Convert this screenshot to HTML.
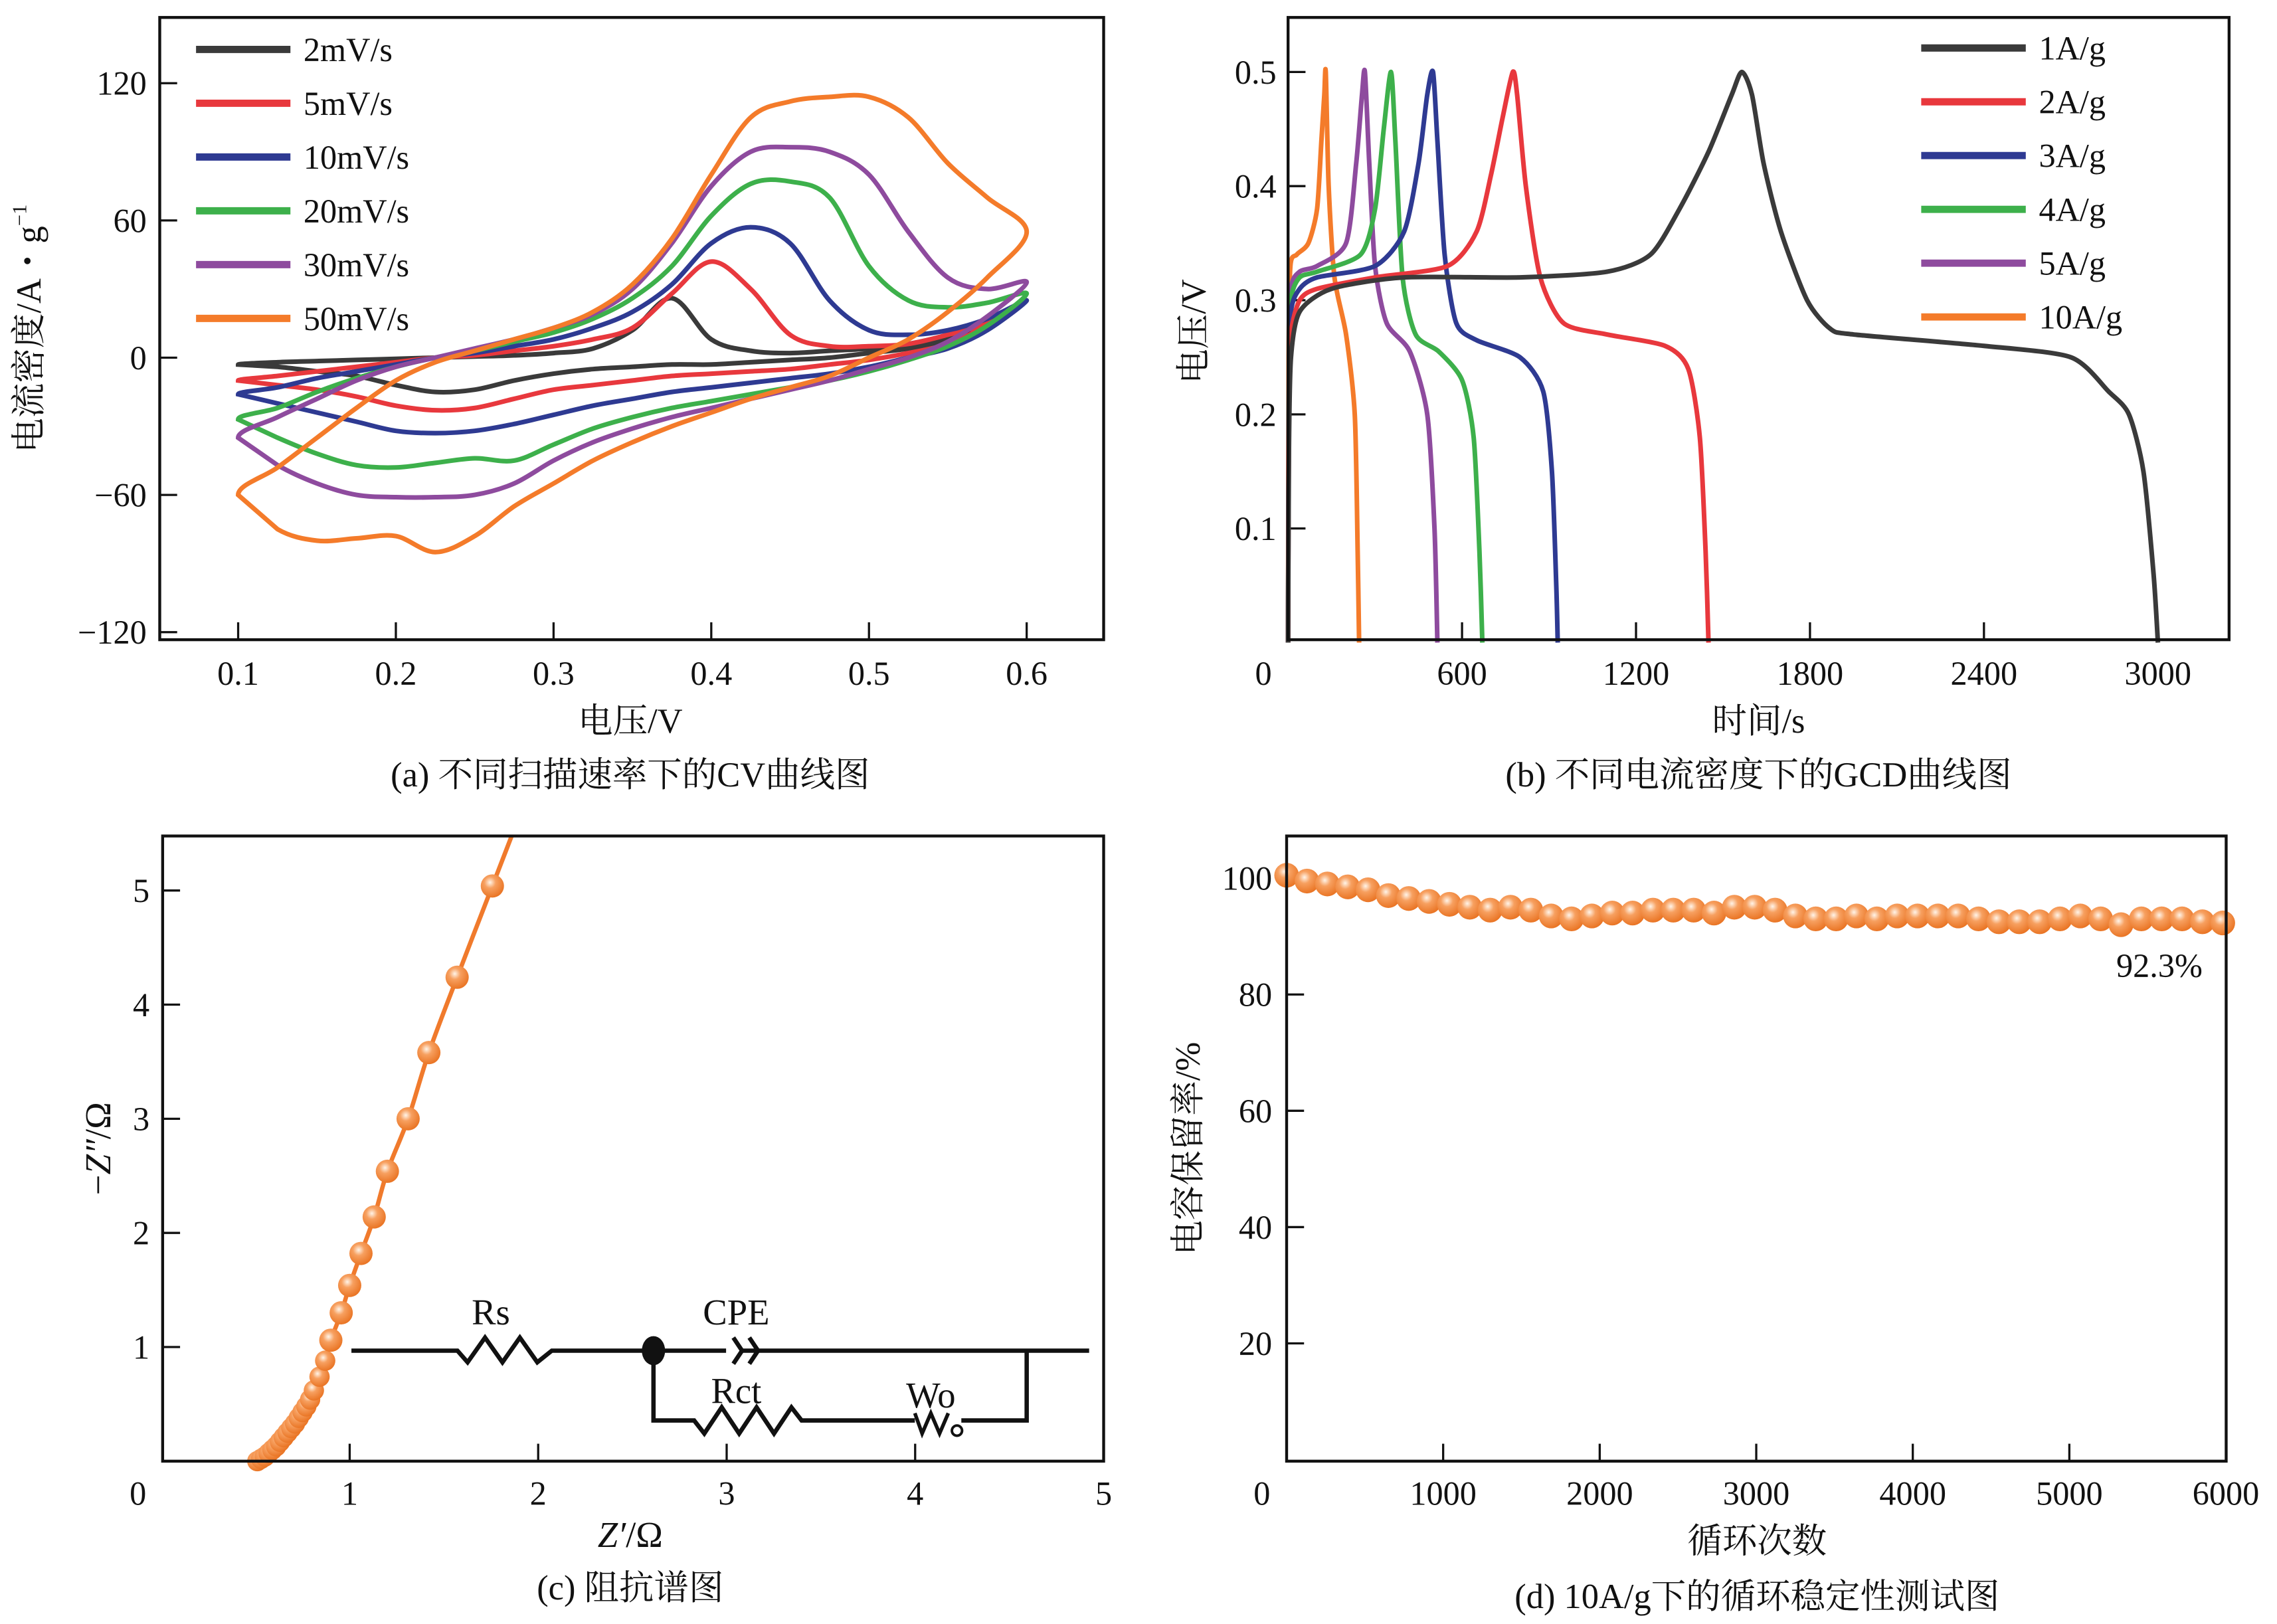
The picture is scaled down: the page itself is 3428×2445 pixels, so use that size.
<!DOCTYPE html>
<html><head><meta charset="utf-8"><style>
html,body{margin:0;padding:0;background:#fff;}
svg{display:block;}
text{font-family:"Liberation Serif","Noto Serif CJK SC",serif;fill:#111;}
</style></head><body>
<svg id="fig" width="3428" height="2445" viewBox="0 0 1568 1117" preserveAspectRatio="none" xmlns="http://www.w3.org/2000/svg">
<defs>
<radialGradient id="bead" cx="0.4" cy="0.35" r="0.7">
<stop offset="0" stop-color="#fff4e8"/><stop offset="0.35" stop-color="#f7a060"/><stop offset="1" stop-color="#e8701e"/>
</radialGradient>
</defs>
<g id="root"></g>
</svg>
<script>
// ---------- Panel (a) CV data ----------
const cvV = [0.1,0.125,0.15,0.175,0.2,0.225,0.25,0.275,0.3,0.325,0.35,0.375,0.4,0.425,0.45,0.475,0.5,0.525,0.55,0.575,0.6];
const cvLabels = ['2mV/s','5mV/s','10mV/s','20mV/s','30mV/s','50mV/s'];
const cvUp2 = [-3,-2,-1.5,-1,-0.5,0,0.5,1,2,4,12,26,8,3,2,3,4,6,10,16,25];
const cvLo2 = [-3,-4,-6,-8,-12,-15,-14,-10,-7,-5,-4,-3,-3,-2,-1,0,2,4,8,15,25];
const cvUp5 = [-10,-8,-6,-4,-2,0,1,3,5,8,13,28,42,30,10,5,5,6,10,15,25];
const cvLo5 = [-10,-12,-14,-17,-21,-23,-22,-18,-14,-12,-10,-8,-7,-6,-5,-3,-1,2,6,14,25];
const cvUp10 = [-16,-13,-9,-6,-3,0,2,5,8,13,20,32,50,57,50,25,12,10,12,17,25];
const cvLo10 = [-16,-20,-24,-28,-32,-33,-32,-29,-25,-21,-18,-15,-13,-11,-9,-7,-4,0,4,12,25];
const cvUp20 = [-27,-22,-15,-9,-4,0,3,7,11,17,26,40,62,76,77,70,40,25,22,24,28];
const cvLo20 = [-27,-35,-42,-47,-48,-46,-44,-45,-38,-31,-26,-22,-19,-16,-13,-10,-6,-1,5,14,28];
const cvUp30 = [-35,-26,-18,-10,-4,0,4,8,13,19,30,50,75,90,92,90,80,55,35,30,33];
const cvLo30 = [-35,-47,-55,-60,-61,-61,-60,-55,-45,-37,-31,-26,-22,-18,-14,-10,-5,0,7,18,33];
const cvUp50 = [-60,-48,-35,-22,-10,-2,3,8,13,20,32,52,80,105,112,114,114,105,85,70,55];
const cvLo50 = [-60,-75,-80,-79,-78,-85,-78,-65,-55,-45,-37,-30,-24,-18,-13,-8,0,8,20,35,55];
const cvXTicks = [0.1,0.2,0.3,0.4,0.5,0.6];
const cvYTicks = [120,60,0,-60,-120];

// ---------- Panel (b) GCD data ----------
const gcdLabels = ['1A/g','2A/g','3A/g','4A/g','5A/g','10A/g'];
const gcdT1 = [0,3,10,40,150,400,800,1100,1250,1350,1450,1530,1565,1600,1640,1700,1790,1870,1950,2400,2700,2830,2900,2950,2985,3000];
const gcdV1 = [0,0.17,0.25,0.29,0.31,0.32,0.32,0.325,0.34,0.38,0.43,0.48,0.50,0.48,0.42,0.36,0.30,0.275,0.27,0.26,0.25,0.22,0.2,0.15,0.06,0];
const gcdT2 = [0,3,10,40,100,300,550,650,700,740,775,790,820,870,950,1100,1300,1380,1420,1440,1450];
const gcdV2 = [0,0.2,0.27,0.30,0.31,0.32,0.33,0.36,0.41,0.46,0.50,0.48,0.40,0.32,0.28,0.27,0.26,0.24,0.18,0.08,0];
const gcdT3 = [0,3,10,40,100,300,400,450,480,500,515,540,580,650,800,880,910,925,930];
const gcdV3 = [0,0.22,0.29,0.31,0.32,0.33,0.36,0.42,0.48,0.50,0.44,0.34,0.28,0.265,0.25,0.22,0.15,0.05,0];
const gcdT4 = [0,3,10,40,100,250,300,330,355,370,395,440,520,600,640,660,670];
const gcdV4 = [0,0.23,0.30,0.32,0.325,0.34,0.38,0.45,0.50,0.44,0.32,0.27,0.255,0.23,0.18,0.08,0];
const gcdT5 = [0,3,10,40,100,200,235,255,265,280,300,340,420,480,505,515];
const gcdV5 = [0,0.24,0.31,0.325,0.33,0.35,0.42,0.48,0.50,0.42,0.33,0.28,0.255,0.2,0.1,0];
const gcdT10 = [0,2,8,30,70,100,115,125,130,140,160,200,230,240,245];
const gcdV10 = [0,0.25,0.33,0.34,0.35,0.38,0.44,0.48,0.50,0.40,0.32,0.27,0.2,0.08,0];
const gcdXTicks = [0,600,1200,1800,2400,3000];
const gcdYTicks = [0.1,0.2,0.3,0.4,0.5];

// ---------- Panel (c) EIS data ----------
const eisRe = [0.51,0.53,0.55,0.57,0.59,0.61,0.63,0.65,0.67,0.69,0.71,0.73,0.75,0.77,0.79,0.81,0.84,0.87,0.9,0.955,1.0,1.06,1.13,1.20,1.31,1.42,1.57,1.757];
const eisIm = [0.0,0.02,0.04,0.07,0.10,0.13,0.17,0.21,0.25,0.29,0.33,0.38,0.43,0.48,0.54,0.62,0.74,0.88,1.06,1.30,1.54,1.82,2.14,2.54,3.0,3.58,4.24,5.04];
const eisXTicks = [0,1,2,3,4,5];
const eisYTicks = [1,2,3,4,5];

// ---------- Panel (d) cycling data ----------
const cycN = [0,130,260,390,520,650,780,910,1040,1170,1300,1430,1560,1690,1820,1950,2080,2210,2340,2470,2600,2730,2860,2990,3120,3250,3380,3510,3640,3770,3900,4030,4160,4290,4420,4550,4680,4810,4940,5070,5200,5330,5460,5590,5720,5850,5980];
const cycR = [100.5,99.5,99,98.5,98,97,96.5,96,95.5,95,94.5,95,94.5,93.5,93,93.5,94,94,94.5,94.5,94.5,94,95,95,94.5,93.5,93,93,93.5,93,93.5,93.5,93.5,93.5,93,92.5,92.5,92.5,93,93.5,93,92,93,93,93,92.5,92.3];
const cycXTicks = [0,1000,2000,3000,4000,5000,6000];
const cycYTicks = [20,40,60,80,100];

const NS='http://www.w3.org/2000/svg';
const root=document.getElementById('root');
function mk(tag,attrs,parent){const e=document.createElementNS(NS,tag);for(const k in attrs)e.setAttribute(k,attrs[k]);(parent||root).appendChild(e);return e;}
function txt(x,y,s,size,anchor,parent){const t=mk('text',{x:x,y:y,'font-size':size,'text-anchor':anchor||'middle'},parent);t.textContent=s;return t;}
function smooth(pts,closed,tension){
  const f=tension||6;
  if(pts.length<2)return '';
  let d='M'+pts[0][0].toFixed(2)+','+pts[0][1].toFixed(2);
  const n=pts.length;
  for(let i=0;i<n-1;i++){
    const p0=pts[i>0?i-1:(closed?n-1:0)],p1=pts[i],p2=pts[i+1],p3=pts[i+2<n?i+2:(closed?(i+2)%n:n-1)];
    const c1=[p1[0]+(p2[0]-p0[0])/f,p1[1]+(p2[1]-p0[1])/f];
    const c2=[p2[0]-(p3[0]-p1[0])/f,p2[1]-(p3[1]-p1[1])/f];
    d+='C'+c1[0].toFixed(2)+','+c1[1].toFixed(2)+' '+c2[0].toFixed(2)+','+c2[1].toFixed(2)+' '+p2[0].toFixed(2)+','+p2[1].toFixed(2);
  }
  return d;
}
function box(x0,y0,x1,y1,name){
  const r=mk('rect',{x:x0,y:y0,width:x1-x0,height:y1-y0,fill:'none',stroke:'#111','stroke-width':2});
  
  
}
const colors=['#3a3a3a','#e8383d','#2e3a92','#3db04b','#8e4b9e','#f47b2a'];

// ===== Panel (a) =====
(function(){
  const g=mk('g',{});
  
  
  const X=v=>164+(v-0.1)/0.1*108.6, Y=c=>246-c/60*94.4;
  box(110,12,760,440,'cv-plot-frame');
  cvXTicks.forEach(v=>{mk('line',{x1:X(v),x2:X(v),y1:440,y2:428,stroke:'#111','stroke-width':1.5},g);const t=txt(X(v),471,v.toFixed(1),23,'middle',g);});
  cvYTicks.forEach(v=>{mk('line',{x1:110,x2:122,y1:Y(v),y2:Y(v),stroke:'#111','stroke-width':1.5},g);const t=txt(101,Y(v)+8,v<0?'−'+(-v):String(v),23,'end',g);});
  const ups=[cvUp2,cvUp5,cvUp10,cvUp20,cvUp30,cvUp50], los=[cvLo2,cvLo5,cvLo10,cvLo20,cvLo30,cvLo50];
  for(let s=0;s<6;s++){
    const pts=[];
    cvV.forEach((v,i)=>pts.push([X(v),Y(ups[s][i])]));
    for(let i=cvV.length-2;i>=1;i--)pts.push([X(cvV[i]),Y(los[s][i])]);
    const p=mk('path',{d:smooth(pts,true)+'Z',fill:'none',stroke:colors[s],'stroke-width':3.2},g);
    
    
    const ly=34+s*37;
    const l=mk('line',{x1:135,x2:200,y1:ly,y2:ly,stroke:colors[s],'stroke-width':5},g);
    
    
    const t=txt(209,ly+8,cvLabels[s],23,'start',g);
    
    
  }
  let t=txt(434,504,'电压/V',24,'middle',g);
  t=mk('text',{x:0,y:0,'font-size':24,'text-anchor':'middle',transform:'translate(28,226) rotate(-90)'},g);
  t.innerHTML='电流密度/A・g<tspan font-size="14" dy="-10">−1</tspan>';
  
  t=txt(434,541,'(a) 不同扫描速率下的CV曲线图',24,'middle',g);
})();

// ===== Panel (b) =====
(function(){
  const g=mk('g',{});
  
  
  const X=t=>887+t/600*119.8, Y=v=>442-v/0.1*78.5;
  box(887,12,1535,440,'gcd-plot-frame');
  gcdXTicks.forEach(v=>{if(v>0)mk('line',{x1:X(v),x2:X(v),y1:440,y2:428,stroke:'#111','stroke-width':1.5},g);const t=txt(v===0?870:X(v),471,String(v),23,'middle',g);});
  gcdYTicks.forEach(v=>{mk('line',{x1:887,x2:899,y1:Y(v),y2:Y(v),stroke:'#111','stroke-width':1.5},g);const t=txt(879,Y(v)+8,v.toFixed(1),23,'end',g);});
  const Ts=[gcdT1,gcdT2,gcdT3,gcdT4,gcdT5,gcdT10],Vs=[gcdV1,gcdV2,gcdV3,gcdV4,gcdV5,gcdV10];
  for(let s=5;s>=0;s--){
    const pts=Ts[s].map((t,i)=>[X(t),Y(Vs[s][i])]);
    const p=mk('path',{d:smooth(pts,false,8),fill:'none',stroke:colors[s],'stroke-width':3.2,'stroke-linejoin':'round'},g);
    
    
  }
  for(let s=0;s<6;s++){
    const ly=33+s*37;
    const l=mk('line',{x1:1323,x2:1395,y1:ly,y2:ly,stroke:colors[s],'stroke-width':5},g);
    
    
    const t=txt(1404,ly+8,gcdLabels[s],23,'start',g);
    
    
  }
  let t=txt(1211,504,'时间/s',24,'middle',g);
  t=mk('text',{x:0,y:0,'font-size':24,'text-anchor':'middle',transform:'translate(830,228) rotate(-90)'},g);t.textContent='电压/V';
  
  t=txt(1211,541,'(b) 不同电流密度下的GCD曲线图',24,'middle',g);
})();

// ===== Panel (c) =====
(function(){
  const g=mk('g',{});
  
  
  const X=v=>111+v*129.8, Y=v=>1005-v*78.5;
  box(112,575,760,1005,'eis-plot-frame');
  eisXTicks.forEach(v=>{if(v>0&&v<5)mk('line',{x1:X(v),x2:X(v),y1:1005,y2:993,stroke:'#111','stroke-width':1.5},g);const t=txt(v===0?95:X(v),1035,String(v),23,'middle',g);});
  eisYTicks.forEach(v=>{mk('line',{x1:112,x2:124,y1:Y(v),y2:Y(v),stroke:'#111','stroke-width':1.5},g);const t=txt(103,Y(v)+8,String(v),23,'end',g);});
  const pts=eisRe.map((r,i)=>[X(r),Y(eisIm[i])]);
  const last=pts[pts.length-1],prev=pts[pts.length-2];
  const k=(575-last[1])/(last[1]-prev[1]);
  pts.push([last[0]+(last[0]-prev[0])*k,575]);
  const p=mk('path',{d:smooth(pts,false),fill:'none',stroke:'#f07a2c','stroke-width':3},g);
  
  eisRe.forEach((r,i)=>{const rad=i<18?7:8;const c=mk('circle',{cx:X(r),cy:Y(eisIm[i]),r:rad,fill:'url(#bead)'},g);});
  // circuit
  const cg=mk('g',{fill:'none',stroke:'#111','stroke-width':3},g);
  
  mk('path',{d:'M242,929 L315,929 L322,937 L334,920 L346,937 L358,920 L370,937 L380,929 L500,929 M510,929 L750,929'},cg);
  mk('path',{d:'M505,920 L511,929 L505,938 M516,920 L522,929 L516,938'},cg);
  mk('path',{d:'M450,929 L450,977 L478,977 L485,986 L497,968 L509,986 L521,968 L533,986 L545,968 L552,977 L630,977 M662,977 L707,977 L707,929'},cg);
  mk('path',{d:'M630,972 L635,986 L641,972 L647,986 L653,972','stroke-width':2.5},cg);
  mk('circle',{cx:659,cy:984,r:3.5,'stroke-width':1.8},cg);
  mk('ellipse',{cx:450,cy:929,rx:8,ry:10,fill:'#111',stroke:'none'},g);
  [['Rs',338,911],['CPE',507,911],['Rct',507,965],['Wo',641,968]].forEach(a=>{const t=txt(a[1],a[2],a[0],25,'middle',g);});
  let t=mk('text',{x:434,y:1064,'font-size':25,'text-anchor':'middle'},g);t.innerHTML='<tspan font-style="italic">Z′</tspan>/Ω';
  
  t=mk('text',{x:0,y:0,'font-size':25,'text-anchor':'middle',transform:'translate(76,790) rotate(-90)'},g);t.innerHTML='−<tspan font-style="italic">Z″</tspan>/Ω';
  
  t=txt(434,1100,'(c) 阻抗谱图',24,'middle',g);
})();

// ===== Panel (d) =====
(function(){
  const g=mk('g',{});
  
  
  const X=v=>886+v/1000*107.8, Y=v=>1004-v*4.0;
  box(886,575,1533,1005,'cycling-plot-frame');
  cycXTicks.forEach(v=>{if(v>0&&v<6000)mk('line',{x1:X(v),x2:X(v),y1:1005,y2:993,stroke:'#111','stroke-width':1.5},g);const t=txt(v===0?869:X(v),1035,String(v),23,'middle',g);});
  cycYTicks.forEach(v=>{mk('line',{x1:886,x2:898,y1:Y(v),y2:Y(v),stroke:'#111','stroke-width':1.5},g);const t=txt(876,Y(v)+8,String(v),23,'end',g);});
  let d='';cycN.forEach((n,i)=>d+=(i?'L':'M')+X(n).toFixed(2)+','+Y(cycR[i]).toFixed(2));
  const p=mk('path',{d:d,fill:'none',stroke:'#f07a2c','stroke-width':4},g);
  
  cycN.forEach((n,i)=>{const c=mk('circle',{cx:X(n),cy:Y(cycR[i]),r:8.5,fill:'url(#bead)'},g);});
  let t=txt(1487,672,'92.3%',23,'middle',g);
  t=txt(1210,1068,'循环次数',24,'middle',g);
  t=mk('text',{x:0,y:0,'font-size':24,'text-anchor':'middle',transform:'translate(826,790) rotate(-90)'},g);t.textContent='电容保留率/%';
  
  t=txt(1210,1106,'(d) 10A/g下的循环稳定性测试图',24,'middle',g);
})();
</script>
</body></html>
